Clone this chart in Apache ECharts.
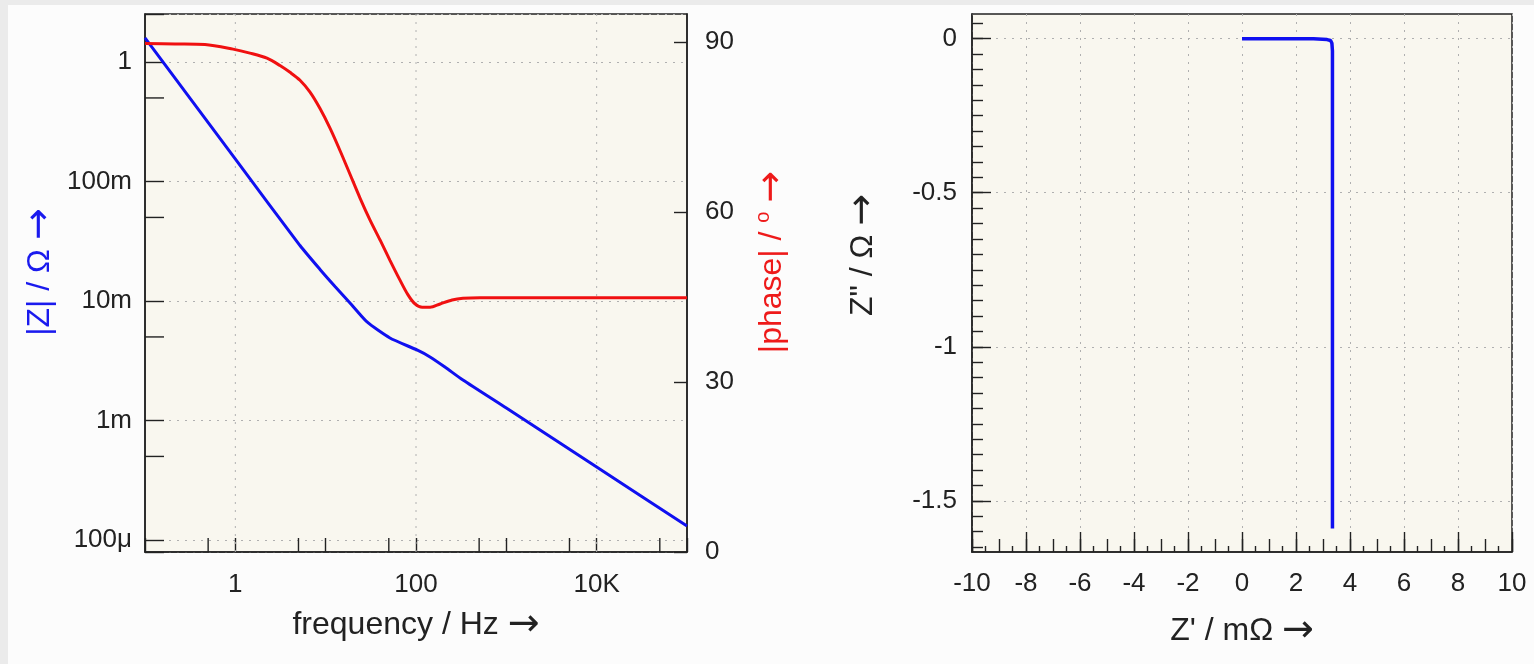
<!DOCTYPE html>
<html>
<head>
<meta charset="utf-8">
<title>Impedance spectrum</title>
<script src="https://cdn.jsdelivr.net/npm/echarts@6/dist/echarts.min.js"></script>
<style>
  html, body { margin: 0; padding: 0; background: #fcfcfc; }
  #chart { width: 1534px; height: 664px; }
</style>
</head>
<body>
<div id="chart"></div>
<script>
// |Z| over frequency (left plot, left axis)
const freqMag = [0.1, 1.017, 5.2, 8.66, 12.69, 18.6, 28.7, 51.5, 102.5, 143, 209, 331, 1000, 10000, 100000]
const magOhm = [1.588, 0.1514, 0.0291, 0.01836, 0.01322, 0.00962, 0.00667, 0.0049, 0.00389, 0.0034, 0.0028, 0.00218, 0.00127, 0.000408, 0.000131]

// |phase| over frequency (left plot, right axis)
const freqPhase = [0.1, 0.215, 0.461, 0.942, 1.45, 2.24, 3.12, 4.03, 5.2, 6.71, 8.66, 11.2, 14.4, 18.6, 24, 31, 40, 51.5, 66.5, 81.6, 97.5, 117, 143, 185, 251, 331, 511, 100000]
const phaseDeg = [89.8, 89.7, 89.6, 88.8, 88.1, 87.2, 85.9, 84.7, 83.3, 81.2, 78.3, 74.8, 70.9, 66.7, 62.5, 58.6, 55.1, 51.5, 48.0, 45.4, 43.8, 43.2, 43.2, 43.8, 44.5, 44.8, 44.9, 44.9]

// Nyquist (right plot)
const zReal = [0, 1, 2, 2.65, 2.7, 3.15, 3.28, 3.33, 3.35, 3.35, 3.35]   // mΩ
const zImag = [0, 0, 0, 0, -0.003, -0.003, -0.006, -0.015, -0.04, -0.8, -1.59] // Ω

// tick labels
const freqLabelValues = [1, 100, 10000]
const freqLabelText = ['1', '100', '10K']
const freqMinorTicks = [0.5, 5, 50, 500, 5000, 50000]
const magLabelValues = [1, 0.1, 0.01, 0.001, 0.0001]
const magLabelText = ['1', '100m', '10m', '1m', '100μ']
const magMinorTicks = [0.5, 0.05, 0.005, 0.0005]
const phaseTicks = [0, 30, 60, 90]
const zImagLabels = [0, -0.5, -1, -1.5]
const zImagMinorTicks = []
for (let k = -33; k <= 1; k++) zImagMinorTicks.push(+(k * 0.05).toFixed(2))

const FONT = "'Liberation Sans', Arial, sans-serif"
const INK = '#222'
const BG = '#f9f7ef'
const DOT = [2, 6]

function logLabel (values, texts) {
  return function (v) {
    for (let i = 0; i < values.length; i++) {
      if (Math.abs(Math.log10(v) - Math.log10(values[i])) < 1e-6) return texts[i]
    }
    return ''
  }
}

// 短刻度 / 竖网格线 用 custom series 画在对数轴上
function xMinorTick (params, api) {
  const cs = params.coordSys
  const x = api.coord([api.value(0), api.value(1)])[0]
  const b = cs.y + cs.height
  return { type: 'line', shape: { x1: x, y1: b, x2: x, y2: b - 14 }, style: { stroke: INK, lineWidth: 1.4 } }
}
function yMinorTick (params, api) {
  const cs = params.coordSys
  const y = api.coord([api.value(0), api.value(1)])[1]
  return { type: 'line', shape: { x1: cs.x, y1: y, x2: cs.x + 19, y2: y }, style: { stroke: INK, lineWidth: 1.4 } }
}
function xGridLine (params, api) {
  const cs = params.coordSys
  const x = api.coord([api.value(0), api.value(1)])[0]
  return { type: 'line', shape: { x1: x, y1: cs.y, x2: x, y2: cs.y + cs.height }, style: { stroke: '#b0b0b0', lineWidth: 1, lineDash: DOT } }
}

const labelStyle = { color: INK, fontSize: 26, fontFamily: FONT }
// 轴名称：箭头用 DejaVu Sans，更长
function nameRich (color) {
  return {
    color: color,
    rich: {
      t: { color: color, fontSize: 32, fontFamily: FONT },
      s: { color: color, fontSize: 20, fontFamily: FONT, verticalAlign: 'top', lineHeight: 32 },
      a: { color: color, fontSize: 38, fontFamily: 'DejaVu Sans' }
    }
  }
}
const axisLine = { show: true, onZero: false, lineStyle: { color: INK, width: 1.5 } }
const gridLine = { show: true, lineStyle: { color: '#b0b0b0', width: 1, type: DOT } }

const chart = echarts.init(document.getElementById('chart'))
chart.setOption({
  animation: false,
  backgroundColor: '#fcfcfc',
  graphic: [
    { type: 'rect', shape: { x: 0, y: 0, width: 1534, height: 5 }, style: { fill: '#ebebeb' } },
    { type: 'rect', shape: { x: 0, y: 0, width: 8, height: 664 }, style: { fill: '#ebebeb' } }
  ],
  grid: [
    { left: 145, top: 14, width: 542, height: 538, show: true, backgroundColor: BG, borderColor: INK, borderWidth: 1.5 },
    { left: 972, top: 14, width: 540, height: 538, show: true, backgroundColor: BG, borderColor: INK, borderWidth: 1.5 }
  ],
  xAxis: [
    {
      type: 'log', gridIndex: 0, min: 0.1, max: 100000,
      name: '{t|frequency / Hz }{a|→}', nameLocation: 'middle', nameGap: 54, nameTextStyle: nameRich(INK),
      axisLine: axisLine,
      axisTick: { inside: true, length: 14, lineStyle: { color: INK, width: 1.4 } },
      axisLabel: { ...labelStyle, margin: 20, formatter: logLabel(freqLabelValues, freqLabelText) },
      splitLine: { show: false }
    },
    {
      type: 'value', gridIndex: 1, position: 'bottom', min: -10, max: 10, interval: 2,
      name: "{t|Z' / mΩ }{a|→}", nameLocation: 'middle', nameGap: 60, nameTextStyle: nameRich(INK),
      axisLine: axisLine,
      axisTick: { inside: true, length: 20, lineStyle: { color: INK, width: 1.4 } },
      axisLabel: { ...labelStyle, margin: 19 },
      splitLine: gridLine
    },
    {
      type: 'value', gridIndex: 1, position: 'bottom', min: -10, max: 10, interval: 1,
      axisLine: { show: false, onZero: false },
      axisTick: { inside: true, length: 13, lineStyle: { color: INK, width: 1.4 } },
      minorTick: { show: true, splitNumber: 2, length: 6, lineStyle: { color: INK, width: 1.4 } },
      axisLabel: { show: false },
      splitLine: { show: false }
    }
  ],
  yAxis: [
    {
      type: 'log', gridIndex: 0, position: 'left', min: 7.93e-5, max: 2.52,
      name: '{t||Z| / Ω }{a|→}', nameLocation: 'middle', nameRotate: 90, nameGap: 86,
      nameTextStyle: { ...nameRich('#1a1aee'), padding: [0, 0, 0, 22] },
      axisLine: axisLine,
      axisTick: { inside: true, length: 19, lineStyle: { color: INK, width: 1.4 } },
      axisLabel: { ...labelStyle, margin: 13, formatter: logLabel(magLabelValues, magLabelText) },
      splitLine: gridLine
    },
    {
      type: 'value', gridIndex: 0, position: 'right', min: 0, max: 95, interval: 30,
      name: '{t||phase| / }{s|o}{t| }{a|→}', nameLocation: 'middle', nameRotate: 90, nameGap: 66,
      nameTextStyle: { ...nameRich('#ee1a1a'), padding: [0, 0, 0, 42] },
      axisLine: axisLine,
      axisTick: { inside: true, length: 13, customValues: phaseTicks, lineStyle: { color: INK, width: 1.4 } },
      axisLabel: { ...labelStyle, margin: 18, customValues: phaseTicks },
      splitLine: { show: false }
    },
    {
      type: 'value', gridIndex: 1, position: 'left', min: -1.666, max: 0.08,
      name: '{t|Z" / Ω }{a|→}', nameLocation: 'middle', nameRotate: 90, nameGap: 90,
      nameTextStyle: { ...nameRich(INK), padding: [0, 0, 0, 56] },
      axisLine: axisLine,
      axisTick: { inside: true, length: 19, customValues: zImagLabels, lineStyle: { color: INK, width: 1.4 } },
      axisLabel: { ...labelStyle, margin: 15, customValues: zImagLabels },
      splitLine: gridLine
    },
    {
      type: 'value', gridIndex: 1, position: 'left', min: -1.666, max: 0.08,
      axisLine: { show: false, onZero: false },
      axisTick: { inside: true, length: 11, customValues: zImagMinorTicks, lineStyle: { color: INK, width: 1.4 } },
      axisLabel: { show: false },
      splitLine: { show: false }
    }
  ],
  series: [
    {
      type: 'custom', xAxisIndex: 0, yAxisIndex: 0, z: 1, silent: true,
      renderItem: xGridLine, data: freqLabelValues.map(v => [v, 1])
    },
    {
      type: 'custom', xAxisIndex: 0, yAxisIndex: 0, z: 3, silent: true,
      renderItem: xMinorTick, data: freqMinorTicks.map(v => [v, 1])
    },
    {
      type: 'custom', xAxisIndex: 0, yAxisIndex: 0, z: 3, silent: true,
      renderItem: yMinorTick, data: magMinorTicks.map(v => [1, v])
    },
    {
      name: '|Z|', type: 'line', xAxisIndex: 0, yAxisIndex: 0, z: 2,
      data: freqMag.map((f, i) => [f, magOhm[i]]),
      smooth: 0.2, showSymbol: false,
      lineStyle: { color: '#1010f0', width: 3 }
    },
    {
      name: '|phase|', type: 'line', xAxisIndex: 0, yAxisIndex: 1, z: 2,
      data: freqPhase.map((f, i) => [f, phaseDeg[i]]),
      smooth: 0.3, showSymbol: false,
      lineStyle: { color: '#f01010', width: 3 }
    },
    {
      name: 'Nyquist', type: 'line', xAxisIndex: 1, yAxisIndex: 2, z: 2,
      data: zReal.map((x, i) => [x, zImag[i]]),
      showSymbol: false,
      lineStyle: { color: '#1010f0', width: 3.5 }
    }
  ]
})
</script>
</body>
</html>
